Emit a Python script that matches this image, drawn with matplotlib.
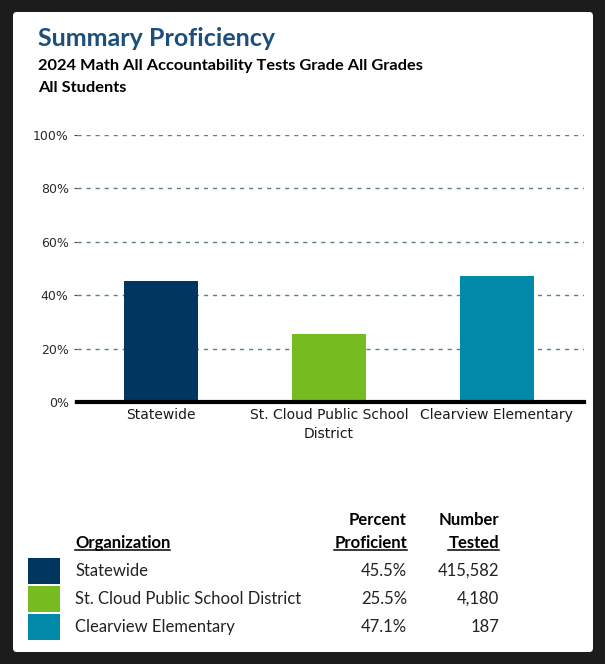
import matplotlib.pyplot as plt
from matplotlib.patches import FancyBboxPatch, Rectangle
from matplotlib.lines import Line2D

# data
orgs = ['Statewide', 'St. Cloud Public School District', 'Clearview Elementary']
axis_labels = ['Statewide', 'St. Cloud Public School\nDistrict', 'Clearview Elementary']
pct_proficient = [45.5, 25.5, 47.1]
num_tested = [415582, 4180, 187]
bar_colors = ['#003660', '#76BC21', '#0089A8']
yticks = [0, 20, 40, 60, 80, 100]

W, H = 605, 664


def fx(x):
    return x / W


def fy(y):
    return 1 - y / H


fig = plt.figure(figsize=(W / 100, H / 100), dpi=100)
fig.patch.set_facecolor('#1c1c1c')

# white card inside dark frame
card = FancyBboxPatch((fx(13), fy(652)), fx(593) - fx(13), fy(12) - fy(652),
                      boxstyle='round,pad=0,rounding_size=0.006',
                      transform=fig.transFigure, facecolor='white',
                      edgecolor='none', zorder=-5)
fig.patches.append(card)

# titles
fig.text(fx(38), fy(38), 'Summary Proficiency', family='Lato', weight='bold',
         size=18, color='#1D4F7C', va='center', ha='left')
fig.text(fx(38), fy(66), '2024 Math All Accountability Tests Grade All Grades',
         family='Lato', weight='bold', size=11.8, color='black', va='center')
fig.text(fx(38), fy(88), 'All Students', family='Lato', weight='bold',
         size=11.8, color='black', va='center')

# chart
ax = fig.add_axes([fx(77), fy(402), fx(584) - fx(77), fy(135) - fy(402)])
ax.set_zorder(2)
ax.set_facecolor('none')
xs = range(len(orgs))
ax.bar(xs, pct_proficient, width=0.44, color=bar_colors, zorder=3)
ax.set_xlim(-0.5, 2.52)
ax.set_ylim(0, 100)
ax.set_yticks(yticks)
ax.set_yticklabels([f'{v}%' for v in yticks], color='#2a2a2a', size=9)
ax.set_xticks(list(xs))
ax.set_xticklabels(axis_labels, color='#1a1a1a', size=10, linespacing=1.5)
ax.tick_params(axis='y', length=2, width=0.8, color='#444444', pad=4)
ax.tick_params(axis='x', length=0, pad=4)
for v in yticks[1:]:
    ax.axhline(v, color='#4f8a78', lw=1.0, ls=(0, (3, 3.5)), zorder=1)
for s in ['top', 'right', 'left']:
    ax.spines[s].set_visible(False)
ax.spines['bottom'].set_linewidth(3)
ax.spines['bottom'].set_color('black')
ax.spines['bottom'].set_zorder(4)

# table
tfont = dict(family='Lato', size=12, color='#222222', va='center')
hfont = dict(family='Lato', size=12, color='black', weight='bold', va='center')
pct_x, num_x = 407, 499
fig.text(fx(pct_x), fy(520), 'Percent', ha='right', **hfont)
fig.text(fx(num_x), fy(520), 'Number', ha='right', **hfont)
headers = [
    fig.text(fx(75), fy(543), 'Organization', ha='left', **hfont),
    fig.text(fx(pct_x), fy(543), 'Proficient', ha='right', **hfont),
    fig.text(fx(num_x), fy(543), 'Tested', ha='right', **hfont),
]

row_y = [571, 599, 627]
for org, p, n, c, y in zip(orgs, pct_proficient, num_tested, bar_colors, row_y):
    fig.patches.append(Rectangle((fx(28), fy(y + 13)), fx(60) - fx(28),
                                 fy(y - 13) - fy(y + 13),
                                 transform=fig.transFigure, facecolor=c,
                                 edgecolor='none'))
    fig.text(fx(75), fy(y), org, ha='left', **tfont)
    fig.text(fx(pct_x), fy(y), f'{p:.1f}%', ha='right', **tfont)
    fig.text(fx(num_x), fy(y), f'{n:,}', ha='right', **tfont)

# underline headers
fig.canvas.draw()
renderer = fig.canvas.get_renderer()
for t in headers:
    bb = t.get_window_extent(renderer).transformed(fig.transFigure.inverted())
    fig.lines.append(Line2D([bb.x0, bb.x1], [bb.y0 + 0.002, bb.y0 + 0.002],
                            transform=fig.transFigure, color='black', lw=1.1))

fig.savefig('out.png', dpi=100, facecolor=fig.get_facecolor())
